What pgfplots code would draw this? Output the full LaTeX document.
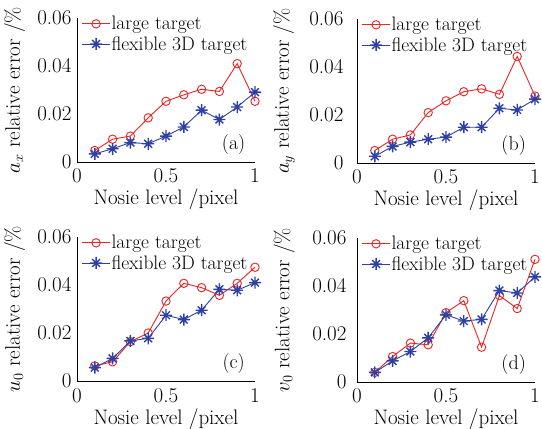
\documentclass[border=0pt]{standalone}
\usepackage{fontspec}
\usepackage{pgfplots}
\pgfplotsset{compat=1.18}
\definecolor{myred}{RGB}{235,35,35}
\definecolor{myblue}{RGB}{45,65,165}
\pgfdeclareplotmark{mstar}{%
  \pgfpathmoveto{\pgfqpoint{-\pgfplotmarksize}{0pt}}\pgfpathlineto{\pgfqpoint{\pgfplotmarksize}{0pt}}%
  \pgfpathmoveto{\pgfqpoint{0pt}{-\pgfplotmarksize}}\pgfpathlineto{\pgfqpoint{0pt}{\pgfplotmarksize}}%
  \pgfpathmoveto{\pgfqpoint{-0.65\pgfplotmarksize}{-0.65\pgfplotmarksize}}\pgfpathlineto{\pgfqpoint{0.65\pgfplotmarksize}{0.65\pgfplotmarksize}}%
  \pgfpathmoveto{\pgfqpoint{-0.65\pgfplotmarksize}{0.65\pgfplotmarksize}}\pgfpathlineto{\pgfqpoint{0.65\pgfplotmarksize}{-0.65\pgfplotmarksize}}%
  \pgfusepathqstroke}
\pgfplotsset{
  myax/.style={
    scale only axis, width=178pt, height=144pt, anchor=south west,
    xmin=0, xmax=1, ymin=0, ymax=0.06,
    axis lines=left, axis line style={-, line width=0.9pt},
    xtick={0,0.5,1}, xticklabels={0,0.5,1},
    ytick={0,0.02,0.04,0.06}, yticklabels={0,0.02,0.04,0.06},
    scaled ticks=false, major tick length=0pt,
    /pgf/number format/assume math mode=true,
    tick label style={font=\fontsize{21}{23}\selectfont},
    xticklabel style={anchor=base, yshift=-21pt},
    label style={font=\fontsize{21}{23}\selectfont},
    xlabel={Nosie level /pixel},
    xlabel style={at={(axis description cs:0.5,0)}, anchor=base, yshift=-43pt},
    clip=false,
    legend style={draw=none, fill=none, at={(axis description cs:0.025,1.02)}, anchor=north west,
      font=\fontsize{19.5}{22}\selectfont, row sep=3pt, inner sep=0pt,
      nodes={inner sep=1pt}},
    legend cell align=left,
    legend image code/.code={\draw[mark repeat=2,mark phase=2] plot coordinates {(0pt,0pt) (14pt,0pt) (28pt,0pt)};},
  },
  redl/.style={color=myred, line width=0.9pt, mark=o, mark size=4.2pt, mark options={line width=0.9pt}},
  bluel/.style={color=myblue, line width=0.9pt, mark=mstar, mark size=6pt, mark options={line width=1.4pt}},
}
\newcommand{\plab}[1]{\node[font=\fontsize{20}{22}\selectfont] at (rel axis cs:0.88,0.12) {#1};}
\begin{document}
\begin{tikzpicture}[x=1pt,y=1pt]
\path[use as bounding box] (0,0) rectangle (542,429);
% (a)
\begin{axis}[myax, at={(77pt,267pt)}, ylabel={$a_x$ relative error /\%},
  yticklabel style={xshift=-2pt},
  ylabel style={at={(axis description cs:-0.35,0.5)}, anchor=center}]
\addplot[redl] coordinates {(0.1,0.0048)(0.2,0.0095)(0.3,0.0108)(0.4,0.0184)(0.5,0.0253)(0.6,0.0280)(0.7,0.0303)(0.8,0.0294)(0.9,0.0410)(1.0,0.0253)};
\addplot[bluel] coordinates {(0.1,0.0034)(0.2,0.0055)(0.3,0.0081)(0.4,0.0076)(0.5,0.0108)(0.6,0.0146)(0.7,0.0216)(0.8,0.0177)(0.9,0.0229)(1.0,0.0291)};
\legend{large target, flexible 3D target}
\plab{(a)}
\end{axis}
% (b)
\begin{axis}[myax, at={(357pt,266pt)}, ylabel={$a_y$ relative error /\%},
  yticklabel style={xshift=-10pt},
  ylabel style={at={(axis description cs:-0.41,0.5)}, anchor=center}]
\addplot[redl] coordinates {(0.1,0.0052)(0.2,0.0099)(0.3,0.0117)(0.4,0.0210)(0.5,0.0259)(0.6,0.0297)(0.7,0.0309)(0.8,0.0286)(0.9,0.0444)(1.0,0.0279)};
\addplot[bluel] coordinates {(0.1,0.0028)(0.2,0.0069)(0.3,0.0087)(0.4,0.0099)(0.5,0.0108)(0.6,0.0149)(0.7,0.0149)(0.8,0.0228)(0.9,0.0221)(1.0,0.0266)};
\legend{large target, flexible 3D target}
\plab{(b)}
\end{axis}
% (c)
\begin{axis}[myax, at={(77pt,48pt)}, ylabel={$u_0$ relative error /\%},
  yticklabel style={xshift=-2pt},
  ylabel style={at={(axis description cs:-0.35,0.5)}, anchor=center}]
\addplot[redl] coordinates {(0.1,0.0063)(0.2,0.0080)(0.3,0.0164)(0.4,0.0200)(0.5,0.0333)(0.6,0.0407)(0.7,0.0389)(0.8,0.0357)(0.9,0.0407)(1.0,0.0474)};
\addplot[bluel] coordinates {(0.1,0.0056)(0.2,0.0094)(0.3,0.0167)(0.4,0.0178)(0.5,0.0274)(0.6,0.0256)(0.7,0.0295)(0.8,0.0382)(0.9,0.0378)(1.0,0.0410)};
\legend{large target, flexible 3D target}
\plab{(c)}
\end{axis}
% (d)
\begin{axis}[myax, at={(357pt,47pt)}, ylabel={$v_0$ relative error /\%},
  yticklabel style={xshift=-7pt},
  ylabel style={at={(axis description cs:-0.41,0.5)}, anchor=center}]
\addplot[redl] coordinates {(0.1,0.0040)(0.2,0.0106)(0.3,0.0162)(0.4,0.0155)(0.5,0.0289)(0.6,0.0339)(0.7,0.0145)(0.8,0.0360)(0.9,0.0306)(1.0,0.0511)};
\addplot[bluel] coordinates {(0.1,0.0040)(0.2,0.0088)(0.3,0.0127)(0.4,0.0184)(0.5,0.0280)(0.6,0.0254)(0.7,0.0261)(0.8,0.0381)(0.9,0.0371)(1.0,0.0438)};
\legend{large target, flexible 3D target}
\plab{(d)}
\end{axis}
\end{tikzpicture}
\end{document}
